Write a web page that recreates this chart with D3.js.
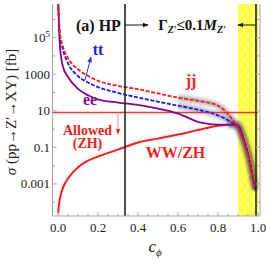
<!DOCTYPE html>
<html>
<head>
<meta charset="utf-8">
<script src="https://cdn.jsdelivr.net/npm/d3@7"></script>
<style>
  html, body { margin: 0; padding: 0; background: #fff; }
  svg { display: block; }
  svg text { font-family: "Times New Roman", "Liberation Serif", Tinos, "DejaVu Serif", serif; }
</style>
</head>
<body>
<div id="chart"></div>
<script>
// c_phi grid and log10(sigma / fb) for each channel
const cGrid = [0.001, 0.005, 0.01, 0.025, 0.05, 0.1, 0.15, 0.2, 0.3, 0.4, 0.5, 0.6, 0.7, 0.8, 0.85, 0.9, 0.93, 0.96, 0.985];
const jjLog = [7.0, 6.1, 5.27, 4.5, 3.88, 3.27, 2.92, 2.64, 2.37, 2.18, 1.95, 1.72, 1.55, 1.28, 0.82, 0.05, -0.75, -1.9, -3.35];
const ttLog = [7.0, 5.8, 5.15, 4.34, 3.6, 2.9, 2.55, 2.3, 1.98, 1.73, 1.5, 1.28, 1.06, 0.75, 0.48, 0.05, -0.7, -1.85, -3.3];
const eeLog = [7.0, 5.5, 4.5, 3.41, 2.85, 2.2, 1.85, 1.63, 1.45, 1.32, 1.12, 0.85, 0.4, 0.25, 0.24, 0.22, -0.6, -1.8, -3.3];
const zhLog = [-4.6, -4.1, -3.77, -3.2, -2.7, -2.08, -1.72, -1.5, -1.12, -0.73, -0.52, -0.3, -0.05, 0.18, 0.24, 0.26, -0.35, -1.45, -3.0];

const allowedLimit = 8;          // fb, horizontal bound
const widthLine = 0.335;         // Gamma_Z' <= 0.1 M_Z' boundary
const bandLo = 0.9, bandHi = 1.0, edgeLine = 0.99;

const xTicks = [0, 0.2, 0.4, 0.6, 0.8, 1.0];
const yTicks = [1e5, 1e3, 10, 0.1, 0.001];
const yTickLabels = ["10|5", "1000", "10", "0.1", "0.001"];

const W = 266, H = 266;
const svg = d3.select("#chart").append("svg").attr("width", W).attr("height", H)
  .attr("font-family", "'Times New Roman', 'Liberation Serif', serif");

const x = d3.scaleLinear().domain([0, 1]).range([58, 258]);
const y = d3.scaleLog().domain([Math.pow(10, -4.75), Math.pow(10, 6.84)]).range([216, 4]);
const xl = x(-0.0275), xr = x(1.01), yt = y.range()[1], yb = y.range()[0];

const defs = svg.append("defs");
defs.append("clipPath").attr("id", "clip")
  .append("rect").attr("x", xl).attr("y", yt).attr("width", xr - xl).attr("height", yb - yt);
defs.append("filter").attr("id", "blur").attr("x", "-20%").attr("y", "-20%").attr("width", "140%").attr("height", "140%")
  .append("feGaussianBlur").attr("stdDeviation", 1.4);
const pat = defs.append("pattern").attr("id", "hatch").attr("patternUnits", "userSpaceOnUse")
  .attr("width", 7).attr("height", 10);
pat.append("rect").attr("width", 7).attr("height", 10).attr("fill", "#ffff3a");
pat.append("path").attr("d", "M0,0 L7,10 M7,0 L0,10").attr("stroke", "#ffffb0").attr("stroke-width", 0.7);

function marker(id, color) {
  defs.append("marker").attr("id", id).attr("viewBox", "0 0 10 10").attr("refX", 9).attr("refY", 5)
    .attr("markerWidth", 6).attr("markerHeight", 6).attr("orient", "auto")
    .append("path").attr("d", "M0,1 L10,5 L0,9 z").attr("fill", color);
}
marker("arrK", "#111");
marker("arrB", "#2233ff");
marker("arrR", "#ff2020");

// yellow band
svg.append("rect").attr("x", x(bandLo)).attr("y", yt).attr("width", x(bandHi) - x(bandLo)).attr("height", yb - yt)
  .attr("fill", "url(#hatch)");

const plot = svg.append("g").attr("clip-path", "url(#clip)");

const pts = arr => cGrid.map((c, i) => [c, arr[i]]);
const line = d3.line().x(d => x(d[0])).y(d => y(Math.pow(10, d[1]))).curve(d3.curveMonotoneX);

// uncertainty halos
[[jjLog, 0.55], [ttLog, 0.6], [eeLog, 0.85], [zhLog, 0.85]].forEach(([arr, c0]) => {
  plot.append("path").attr("d", line(pts(arr).filter(d => d[0] >= c0)))
    .attr("fill", "none").attr("stroke", "#555").attr("stroke-opacity", 0.4)
    .attr("stroke-width", 6).attr("filter", "url(#blur)");
});

// vertical lines
[widthLine, edgeLine].forEach(c => {
  svg.append("line").attr("x1", x(c)).attr("x2", x(c)).attr("y1", yt).attr("y2", yb)
    .attr("stroke", "#222").attr("stroke-width", 1.6);
});

// horizontal bound
plot.append("line").attr("x1", xl).attr("x2", x(1.0)).attr("y1", y(allowedLimit)).attr("y2", y(allowedLimit))
  .attr("stroke", "#ff3030").attr("stroke-width", 1.5);

// curves
plot.append("path").attr("d", line(pts(zhLog).filter(d => d[0] <= bandLo)))
  .attr("fill", "none").attr("stroke", "#ff1a1a").attr("stroke-width", 2);
plot.append("path").attr("d", line(pts(zhLog).filter(d => d[0] >= bandLo)))
  .attr("fill", "none").attr("stroke", "#ff9a00").attr("stroke-width", 1).attr("stroke-dasharray", "3,1.5");
plot.append("path").attr("d", line(pts(eeLog)))
  .attr("fill", "none").attr("stroke", "#7d0a8c").attr("stroke-width", 1.8);
plot.append("path").attr("d", line(pts(ttLog)))
  .attr("fill", "none").attr("stroke", "#1a1aff").attr("stroke-width", 1.8).attr("stroke-dasharray", "4,1.6");
plot.append("path").attr("d", line(pts(jjLog)))
  .attr("fill", "none").attr("stroke", "#ff1a1a").attr("stroke-width", 1.8).attr("stroke-dasharray", "4,1.6");

// frame
const frameCol = "#a8a8a8";
svg.append("path").attr("d", `M${xl},${yt} V${yb} H${xr} V${yt}`)
  .attr("fill", "none").attr("stroke", frameCol).attr("stroke-width", 1);

// x ticks
d3.range(0, 1.0001, 0.05).forEach(c => {
  const major = Math.abs(c * 5 - Math.round(c * 5)) < 1e-6;
  svg.append("line").attr("x1", x(c)).attr("x2", x(c)).attr("y1", yb).attr("y2", yb - (major ? 4 : 2))
    .attr("stroke", frameCol);
});
svg.selectAll(".xl").data(xTicks).enter().append("text")
  .attr("x", d => x(d)).attr("y", 231.5).attr("text-anchor", "middle")
  .attr("font-size", 13).attr("fill", "#222").text(d => d.toFixed(1));

// y ticks (both sides)
d3.range(-4, 7).forEach(k => {
  const v = Math.pow(10, k), labeled = (k % 2 !== 0);
  const len = labeled ? 4 : 2.5;
  svg.append("line").attr("x1", xl).attr("x2", xl + len).attr("y1", y(v)).attr("y2", y(v)).attr("stroke", frameCol);
  svg.append("line").attr("x1", xr).attr("x2", xr - len).attr("y1", y(v)).attr("y2", y(v)).attr("stroke", frameCol);
});
yTicks.forEach((v, i) => {
  const t = svg.append("text").attr("x", 50).attr("y", y(v) + 4.5).attr("text-anchor", "end")
    .attr("font-size", 13).attr("fill", "#222");
  const parts = yTickLabels[i].split("|");
  t.append("tspan").text(parts[0]);
  if (parts[1]) t.append("tspan").attr("dy", -5).attr("font-size", 9).text(parts[1]);
});

// axis titles
svg.append("text").attr("transform", "translate(16,112) rotate(-90)").attr("text-anchor", "middle")
  .attr("font-size", 15).attr("fill", "#222")
  .call(t => {
    t.append("tspan").attr("font-style", "italic").text("σ");
    t.append("tspan").text(" (pp→Z′→XY) [fb]");
  });
svg.append("text").attr("x", 155).attr("y", 252).attr("text-anchor", "middle").attr("fill", "#222")
  .call(t => {
    t.append("tspan").attr("font-size", 17).attr("font-style", "italic").text("c");
    t.append("tspan").attr("font-size", 11).attr("font-style", "italic").attr("dy", 4).text("ϕ");
  });

// annotations
const bold = (sel) => sel.attr("font-weight", "bold");
svg.append("text").attr("x", 76).attr("y", 30.5).attr("font-size", 16).call(bold).attr("fill", "#111").text("(a) HP");

svg.append("line").attr("x1", x(widthLine)).attr("x2", 148).attr("y1", 25).attr("y2", 25)
  .attr("stroke", "#111").attr("stroke-width", 1).attr("marker-end", "url(#arrK)");
svg.append("line").attr("x1", x(edgeLine)).attr("x2", 238).attr("y1", 25).attr("y2", 25)
  .attr("stroke", "#111").attr("stroke-width", 1).attr("marker-end", "url(#arrK)");
svg.append("text").attr("x", 192).attr("y", 30).attr("text-anchor", "middle").attr("font-size", 15).call(bold)
  .attr("fill", "#111")
  .call(t => {
    t.append("tspan").text("Γ");
    t.append("tspan").attr("font-style", "italic").attr("font-size", 10).attr("dy", 3).text("Z′");
    t.append("tspan").attr("dy", -3).text("≤0.1");
    t.append("tspan").attr("font-style", "italic").text("M");
    t.append("tspan").attr("font-style", "italic").attr("font-size", 10).attr("dy", 3).text("Z′");
  });

svg.append("line").attr("x1", 85).attr("y1", 80).attr("x2", 91).attr("y2", 57)
  .attr("stroke", "#2233ff").attr("stroke-width", 1).attr("marker-end", "url(#arrB)");
svg.append("text").attr("x", 98).attr("y", 54.5).attr("text-anchor", "middle").attr("font-size", 16).call(bold)
  .attr("fill", "#1a1aff").text("tt");
svg.append("text").attr("x", 90).attr("y", 104.5).attr("text-anchor", "middle").attr("font-size", 16).call(bold)
  .attr("fill", "#7d0a8c").text("ee");
svg.append("text").attr("x", 191).attr("y", 85.5).attr("text-anchor", "middle").attr("font-size", 16).call(bold)
  .attr("fill", "#ff1a1a").text("jj");

svg.append("line").attr("x1", 118).attr("x2", 118).attr("y1", y(allowedLimit)).attr("y2", 134)
  .attr("stroke", "#ff9090").attr("stroke-width", 1).attr("marker-end", "url(#arrR)");
svg.append("text").attr("x", 87.5).attr("y", 134.5).attr("text-anchor", "middle").attr("font-size", 14).call(bold)
  .attr("fill", "#ff1a1a").text("Allowed");
svg.append("text").attr("x", 87.5).attr("y", 148).attr("text-anchor", "middle").attr("font-size", 14).call(bold)
  .attr("fill", "#ff1a1a").text("(ZH)");
svg.append("text").attr("x", 175.5).attr("y", 157.5).attr("text-anchor", "middle").attr("font-size", 16).call(bold)
  .attr("fill", "#ff1a1a").text("WW/ZH");
</script>
</body>
</html>
